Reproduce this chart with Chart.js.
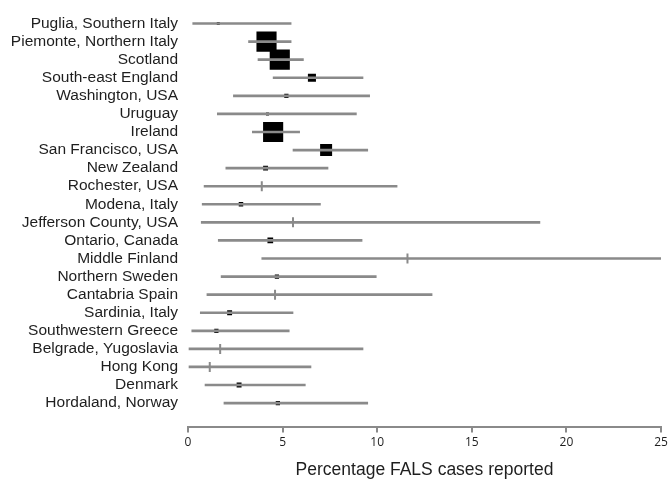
<!DOCTYPE html>
<html>
<head>
<meta charset="utf-8">
<title>Percentage FALS cases reported</title>
<script src="https://cdn.jsdelivr.net/npm/chart.js@4.4.1/dist/chart.umd.min.js"></script>
<style>
  html, body { margin: 0; padding: 0; background: #fff; }
  #wrap { width: 670px; height: 481px; }
</style>
</head>
<body>
<div id="wrap"><canvas id="forest"></canvas></div>
<script>
/* ---------- Data ---------- */
const studies = [
  'Puglia, Southern Italy', 'Piemonte, Northern Italy', 'Scotland',
  'South-east England', 'Washington, USA', 'Uruguay', 'Ireland',
  'San Francisco, USA', 'New Zealand', 'Rochester, USA', 'Modena, Italy',
  'Jefferson County, USA', 'Ontario, Canada', 'Middle Finland',
  'Northern Sweden', 'Cantabria Spain', 'Sardinia, Italy',
  'Southwestern Greece', 'Belgrade, Yugoslavia', 'Hong Kong', 'Denmark',
  'Hordaland, Norway'
];
const estimate = [1.6, 4.15, 4.85, 6.55, 5.2, 4.2, 4.5, 7.3, 4.1, 3.9, 2.8,
                  5.55, 4.35, 11.6, 4.7, 4.6, 2.2, 1.5, 1.7, 1.15, 2.7, 4.75];
const ciLow    = [0.25, 3.2, 3.7, 4.5, 2.4, 1.55, 3.4, 5.55, 2.0, 0.85, 0.75,
                  0.7, 1.6, 3.9, 1.75, 1.0, 0.65, 0.2, 0, 0, 0.9, 1.9];
const ciHigh   = [5.45, 5.45, 6.1, 9.25, 9.6, 8.9, 5.9, 9.5, 7.4, 11.05, 7.0,
                  18.6, 9.2, 25, 9.95, 12.9, 5.55, 5.35, 9.25, 6.5, 6.2, 9.5];
// study weight (%); 0 = no weight, drawn as a plain tick
const weights  = [0.45, 20, 20, 3.2, 0.9, 0.45, 20, 7.1, 1.2, 0, 1.0,
                  0, 1.6, 0, 0.9, 0, 1.2, 0.9, 0, 0, 1.2, 0.9];
const xTicks   = [0, 5, 10, 15, 20, 25];

/* ---------- Style ---------- */
const GREY = '#8a8a8a';
const TEXT = '#1e1e1e';
const boxSide = (w) => Math.sqrt(w) * 4.5;

/* ---------- Chart ---------- */
new Chart(document.getElementById('forest'), {
  data: {
    datasets: [
      {
        type: 'bar',
        indexAxis: 'y',
        data: studies.map((_, i) => ({ x: [ciLow[i], ciHigh[i]], y: i })),
        backgroundColor: GREY,
        barThickness: 2,
        borderWidth: 0
      },
      {
        type: 'scatter',
        data: studies.map((_, i) => ({ x: estimate[i], y: i })),
        pointStyle: (c) => weights[c.dataIndex] > 0 ? 'rect' : 'line',
        pointRotation: (c) => weights[c.dataIndex] > 0 ? 0 : 90,
        pointRadius: (c) => {
          const w = weights[c.dataIndex];
          return w > 0 ? boxSide(w) / (2 * Math.SQRT1_2) : 5;
        },
        pointBackgroundColor: '#000',
        pointBorderColor: GREY,
        pointBorderWidth: (c) => weights[c.dataIndex] > 0 ? 0 : 2,
        pointHoverRadius: 0
      }
    ]
  },
  options: {
    responsive: true,
    maintainAspectRatio: false,
    animation: false,
    // no auto padding: the big boxes would otherwise shrink the plot
    layout: { autoPadding: false, padding: { top: 14.5, right: 9, left: 0, bottom: 0 } },
    plugins: { legend: { display: false }, tooltip: { enabled: false } },
    scales: {
      x: {
        type: 'linear',
        min: 0,
        max: 25,
        afterBuildTicks: (s) => { s.ticks = xTicks.map(v => ({ value: v })); },
        afterFit: (s) => { s.paddingLeft = 0; s.paddingRight = 0; },
        grid: { drawOnChartArea: false, drawTicks: true, tickLength: 6, color: GREY, lineWidth: 2 },
        border: { display: true, color: GREY, width: 2 },
        ticks: { color: TEXT, font: { family: 'Open Sans', size: 12 }, padding: 3, maxRotation: 0 },
        title: {
          display: true,
          text: 'Percentage FALS cases reported',
          color: TEXT,
          font: { family: 'Liberation Sans', size: 17.5 },
          padding: { top: 7, bottom: 0 }
        }
      },
      y: {
        type: 'linear',
        reverse: true,
        offset: false,
        min: -0.5,
        max: 22.3,
        afterBuildTicks: (s) => { s.ticks = studies.map((_, i) => ({ value: i })); },
        afterFit: (s) => { s.width = 188; s.paddingTop = 0; s.paddingBottom = 0; },
        grid: { display: false, drawTicks: false, offset: false },
        border: { display: false },
        ticks: {
          color: TEXT,
          font: { family: 'Liberation Sans', size: 15.5 },
          padding: 10,
          autoSkip: false,
          callback: (v) => studies[v] ?? ''
        }
      }
    }
  }
});
</script>
</body>
</html>
